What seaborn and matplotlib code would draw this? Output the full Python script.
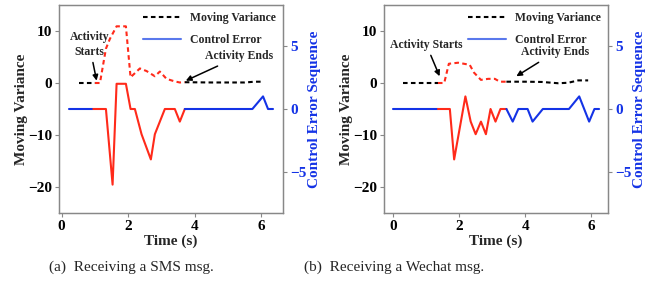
import matplotlib
matplotlib.use('Agg')
import matplotlib.pyplot as plt
import seaborn as sns
import numpy as np

# ---- data ----
# (a) SMS
sms_mv_t = [0.53, 0.75, 1.0, 1.15, 1.33, 1.45, 1.65, 1.93, 2.07, 2.35, 2.55, 2.8, 2.95, 3.15, 3.4, 3.55, 3.7, 4.5, 5.0, 5.5, 5.8, 6.05]
sms_mv_v = [0, 0, 0, 0, 6.6, 8.5, 10.9, 10.9, 1.1, 2.8, 2.3, 1.3, 2.2, 0.8, 0.3, 0.1, 0.15, 0.1, 0.1, 0.1, 0.25, 0.25]
sms_ce_t = [0.22, 0.95, 1.33, 1.53, 1.65, 1.93, 2.07, 2.2, 2.4, 2.68, 2.8, 3.1, 3.4, 3.55, 3.7, 5.73, 6.05, 6.2, 6.35]
sms_ce_v = [0, 0, 0, -6, 2, 2, 0, 0, -2, -4, -2, 0, 0, -1, 0, 0, 1, 0, 0]
sms_mv_span = (1.0, 3.7)   # red part of moving variance
sms_ce_span = (0.95, 3.7)  # red part of control error

# (b) Wechat
wc_mv_t = [0.3, 1.0, 1.36, 1.55, 1.69, 1.97, 2.32, 2.45, 2.66, 2.88, 3.08, 3.23, 3.43, 4.0, 4.5, 5.0, 5.3, 5.6, 5.9]
wc_mv_v = [0, 0, 0, 0, 3.7, 3.9, 3.5, 2.0, 0.6, 0.8, 0.8, 0.25, 0.25, 0.25, 0.2, -0.05, 0.05, 0.5, 0.5]
wc_ce_t = [0, 1.36, 1.72, 1.85, 2.19, 2.35, 2.5, 2.66, 2.81, 2.95, 3.1, 3.25, 3.43, 3.62, 3.79, 4.07, 4.22, 4.53, 5.32, 5.63, 5.93, 6.09, 6.23]
wc_ce_v = [0, 0, 0, -4, 1, -1, -2, -1, -2, 0, -1, 0, 0, -1, 0, 0, -1, 0, 0, 1, -1, 0, 0]
wc_mv_span = (1.36, 3.43)
wc_ce_span = (1.36, 3.43)

captions = ['(a)  Receiving a SMS msg.', '(b)  Receiving a Wechat msg.']

RED = '#ff2a1a'
BLUE = '#1433e6'

sns.set_style('ticks')
plt.rcParams['font.family'] = ['Liberation Serif', 'DejaVu Serif']
plt.rcParams['font.weight'] = 'bold'
plt.rcParams['axes.labelweight'] = 'bold'
plt.rcParams['axes.edgecolor'] = '#888888'
plt.rcParams['xtick.color'] = '#888888'
plt.rcParams['ytick.color'] = '#888888'


def split(t, v, span):
    start, end = span
    t = np.array(t, dtype=float)
    v = np.array(v, dtype=float)
    pre = t <= start
    mid = (t >= start) & (t <= end)
    post = t >= end
    return (t[pre], v[pre]), (t[mid], v[mid]), (t[post], v[post])


def panel(rect, mv_t, mv_v, ce_t, ce_v, mv_span, ce_span, xlim, starts_txt, starts_xy, starts_tip, ends_xy, ends_tip):
    ax = fig.add_axes(rect)
    ax2 = ax.twinx()
    for (tt, vv), c in zip(split(mv_t, mv_v, mv_span), ['black', RED, 'black']):
        l = sns.lineplot(x=tt, y=vv, ax=ax, color=c, lw=1.5, sort=False)
        l.lines[-1].set_dashes((2.2, 1.6))
    for (tt, vv), c in zip(split(ce_t, ce_v, ce_span), [BLUE, RED, BLUE]):
        sns.lineplot(x=tt, y=vv, ax=ax2, color=c, lw=1.5, sort=False)

    ax.set_xlim(*xlim)
    ax.set_ylim(-25, 15)
    ax.set_yticks([-20, -10, 0, 10])
    ax.set_xticks([0, 2, 4, 6])
    ax2.set_ylim(-8.25, 8.25)
    ax2.set_yticks([-5, 0, 5])

    ax.tick_params(length=3, width=0.8, labelsize=11, labelcolor='black', pad=2)
    ax2.tick_params(length=3, width=0.8, labelsize=11, labelcolor=BLUE, pad=2)
    for a in (ax, ax2):
        for s in a.spines.values():
            s.set_visible(True)
            s.set_color('#888888')
            s.set_linewidth(0.9)
    ax.set_xlabel('Time (s)', fontsize=11, labelpad=1)
    ax.set_ylabel('Moving Variance', fontsize=11, labelpad=0)
    ax2.set_ylabel('Control Error Sequence', fontsize=11, color=BLUE, labelpad=1)

    handles = [plt.Line2D([], [], color='black', lw=1.5, dashes=(2.2, 1.6)),
               plt.Line2D([], [], color='#5a78ec', lw=1.5)]
    ax.legend(handles, ['Moving Variance', 'Control Error'], loc='upper right', frameon=False,
              prop={'size': 8.5, 'weight': 'bold'}, handlelength=3.2, labelspacing=0.85,
              borderaxespad=0.2, handletextpad=0.8)

    ap = dict(arrowstyle='-|>', color='black', lw=1.1, mutation_scale=8, shrinkA=1, shrinkB=0)
    ax.annotate(starts_txt, xy=starts_tip, xytext=starts_xy, ha='center', va='center',
                fontsize=8.5, fontweight='bold', arrowprops=ap, linespacing=1.3)
    ax.annotate('Activity Ends', xy=ends_tip, xytext=ends_xy, ha='center', va='center',
                fontsize=8.5, fontweight='bold', arrowprops=ap)
    return ax


fig = plt.figure(figsize=(6.51, 2.81), dpi=100)

panel([59 / 651, 68 / 281, 224 / 651, 208 / 281], sms_mv_t, sms_mv_v, sms_ce_t, sms_ce_v,
      sms_mv_span, sms_ce_span, (-0.08, 6.65), 'Activity\nStarts', (0.83, 7.4), (1.05, 0.45),
      (5.33, 5.15), (3.73, 0.45))
panel([384 / 651, 68 / 281, 224 / 651, 208 / 281], wc_mv_t, wc_mv_v, wc_ce_t, wc_ce_v,
      wc_mv_span, wc_ce_span, (-0.27, 6.5), 'Activity Starts', (1.01, 7.35), (1.41, 1.3),
      (4.89, 5.9), (3.73, 1.3))

fig.text(131 / 651, 14 / 281, captions[0], ha='center', va='center', fontsize=11, fontweight='normal')
fig.text(394 / 651, 14 / 281, captions[1], ha='center', va='center', fontsize=11, fontweight='normal')

fig.savefig('out.png', dpi=100, facecolor='white')
